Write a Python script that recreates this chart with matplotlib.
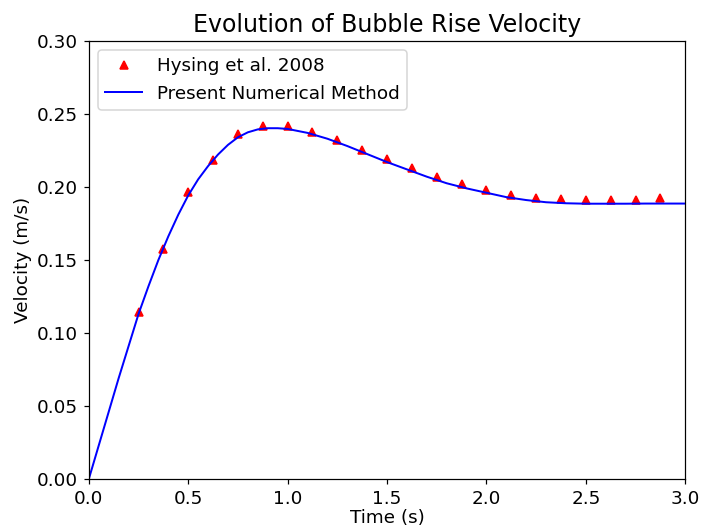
import matplotlib
matplotlib.use("Agg")
import matplotlib.pyplot as plt

# Hysing et al. 2008 benchmark points
t_ref = [0.25, 0.375, 0.5, 0.625, 0.75, 0.875, 1.0, 1.125, 1.25, 1.375,
         1.5, 1.625, 1.75, 1.875, 2.0, 2.125, 2.25, 2.375, 2.5, 2.625,
         2.75, 2.875]
v_ref = [0.1140, 0.1575, 0.1965, 0.2185, 0.2365, 0.2415, 0.2420, 0.2378,
         0.2320, 0.2255, 0.2190, 0.2128, 0.2068, 0.2022, 0.1980, 0.1947,
         0.1924, 0.1917, 0.1908, 0.1912, 0.1912, 0.1924]

# present numerical method curve
t_num = [0.00, 0.05, 0.10, 0.15, 0.20, 0.25, 0.30, 0.35, 0.40, 0.45,
         0.50, 0.55, 0.60, 0.65, 0.70, 0.75, 0.80, 0.85, 0.90, 0.95,
         1.00, 1.10, 1.20, 1.30, 1.40, 1.50, 1.60, 1.70, 1.80, 1.90,
         2.00, 2.10, 2.20, 2.30, 2.40, 2.50, 2.60, 2.70, 2.80, 2.90, 3.00]
v_num = [0.000, 0.023, 0.046, 0.069, 0.091, 0.113, 0.132, 0.150, 0.1662,
         0.1810, 0.1942, 0.2052, 0.2143, 0.2222, 0.2288, 0.2340, 0.2374,
         0.2394, 0.2402, 0.2402, 0.2397, 0.237, 0.233, 0.228, 0.2225,
         0.217, 0.212, 0.207, 0.2025, 0.199, 0.196, 0.193, 0.191, 0.1895,
         0.1888, 0.1885, 0.1885, 0.1885, 0.1886, 0.1886, 0.1886]

fig = plt.figure(figsize=(705 / 110, 531 / 110), dpi=110)
ax = fig.add_subplot(111)
fig.subplots_adjust(left=0.126, right=0.972, bottom=0.098, top=0.923)

ax.plot(t_ref, v_ref, "r^", markersize=5, label="Hysing et al. 2008")
ax.plot(t_num, v_num, "b-", lw=1.3, label="Present Numerical Method")

ax.set_xlim(0, 3.0)
ax.set_ylim(0, 0.30)
ax.tick_params(labelsize=12)
ax.set_xlabel("Time (s)", fontsize=12, labelpad=1)
ax.set_ylabel("Velocity (m/s)", fontsize=12, labelpad=3)
ax.set_title("Evolution of Bubble Rise Velocity", fontsize=15.5, pad=6)
ax.legend(loc="upper left", fontsize=12)

fig.savefig("out.png", dpi=110)
